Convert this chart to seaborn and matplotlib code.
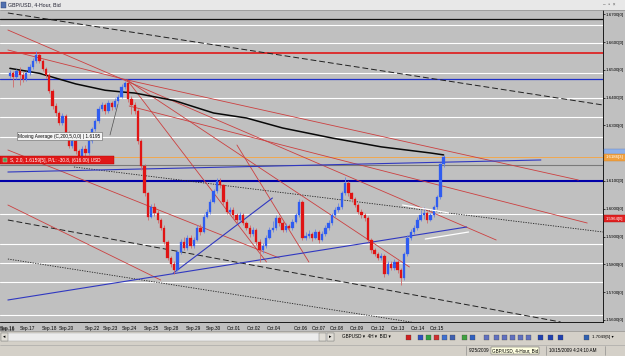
import matplotlib
matplotlib.use("Agg")
import matplotlib.pyplot as plt
import matplotlib.transforms as mtransforms
from matplotlib.patches import Rectangle
import seaborn as sns
import pandas as pd

# ---------------- data (bar index = 4-hour bar number, prices in USD) ----------------
first_open = 1.6480
closes = [1.6490, 1.6476, 1.6497, 1.6483, 1.6468, 1.6490, 1.6512, 1.6534, 1.6555, 1.6534,
          1.6505, 1.6483, 1.6425, 1.6371, 1.6345, 1.6309, 1.6334, 1.6273, 1.6226, 1.6244,
          1.6208, 1.6186, 1.6215, 1.6200, 1.6244, 1.6287, 1.6316, 1.6360, 1.6374, 1.6352,
          1.6381, 1.6367, 1.6389, 1.6403, 1.6439, 1.6454, 1.6396, 1.6374, 1.6352, 1.6244,
          1.6153, 1.6055, 1.5972, 1.6008, 1.5983, 1.5961, 1.5932, 1.5881, 1.5824, 1.5802,
          1.5780, 1.5845, 1.5881, 1.5860, 1.5896, 1.5867, 1.5889, 1.5932, 1.5918, 1.5972,
          1.5990, 1.6026, 1.6063, 1.6099, 1.6084, 1.6026, 1.5990, 1.5997, 1.5976, 1.5961,
          1.5976, 1.5947, 1.5932, 1.5910, 1.5925, 1.5881, 1.5852, 1.5867, 1.5896, 1.5925,
          1.5932, 1.5968, 1.5947, 1.5925, 1.5939, 1.5932, 1.5954, 1.5976, 1.6026, 1.5896,
          1.5903, 1.5910, 1.5896, 1.5918, 1.5889, 1.5910, 1.5932, 1.5947, 1.5976, 1.5997,
          1.6008, 1.6055, 1.6092, 1.6055, 1.6034, 1.6012, 1.5990, 1.5976, 1.5968, 1.5889,
          1.5852, 1.5838, 1.5824, 1.5831, 1.5766, 1.5802, 1.5787, 1.5809, 1.5780, 1.5751,
          1.5838, 1.5896, 1.5918, 1.5932, 1.5961, 1.5976, 1.5983, 1.5961, 1.5976, 1.6005,
          1.6041, 1.6160, 1.6186]
highs = [1.6500, 1.6498, 1.6505, 1.6510, 1.6492, 1.6498, 1.6520, 1.6545, 1.6568, 1.6562,
         1.6540, 1.6512, 1.6490, 1.6432, 1.6380, 1.6352, 1.6345, 1.6340, 1.6280, 1.6255,
         1.6250, 1.6215, 1.6225, 1.6228, 1.6252, 1.6295, 1.6325, 1.6372, 1.6385, 1.6382,
         1.6392, 1.6390, 1.6398, 1.6412, 1.6448, 1.6462, 1.6460, 1.6405, 1.6385, 1.6360,
         1.6250, 1.6160, 1.6062, 1.6018, 1.6020, 1.5995, 1.5968, 1.5940, 1.5888, 1.5830,
         1.5812, 1.5852, 1.5890, 1.5900, 1.5905, 1.5905, 1.5898, 1.5942, 1.5945, 1.5982,
         1.6000, 1.6035, 1.6072, 1.6112, 1.6110, 1.6090, 1.6035, 1.6008, 1.6005, 1.5985,
         1.5990, 1.5985, 1.5955, 1.5940, 1.5935, 1.5932, 1.5890, 1.5875, 1.5905, 1.5935,
         1.5955, 1.5978, 1.5975, 1.5955, 1.5948, 1.5945, 1.5962, 1.5985, 1.6035, 1.6030,
         1.5915, 1.5922, 1.5918, 1.5928, 1.5925, 1.5920, 1.5940, 1.5958, 1.5985, 1.6008,
         1.6020, 1.6065, 1.6114, 1.6100, 1.6062, 1.6042, 1.6020, 1.5998, 1.5985, 1.5975,
         1.5895, 1.5860, 1.5845, 1.5840, 1.5838, 1.5812, 1.5810, 1.5820, 1.5815, 1.5788,
         1.5845, 1.5905, 1.5928, 1.5942, 1.5970, 1.5995, 1.6005, 1.5992, 1.5985, 1.6012,
         1.6050, 1.6165, 1.6192]
lows = [1.6470, 1.6440, 1.6468, 1.6445, 1.6455, 1.6460, 1.6482, 1.6505, 1.6525, 1.6525,
        1.6495, 1.6470, 1.6418, 1.6360, 1.6335, 1.6300, 1.6300, 1.6265, 1.6218, 1.6220,
        1.6198, 1.6168, 1.6175, 1.6185, 1.6195, 1.6238, 1.6280, 1.6310, 1.6352, 1.6340,
        1.6345, 1.6355, 1.6360, 1.6380, 1.6398, 1.6430, 1.6385, 1.6340, 1.6340, 1.6235,
        1.6140, 1.6045, 1.5960, 1.5965, 1.5975, 1.5950, 1.5925, 1.5872, 1.5815, 1.5790,
        1.5765, 1.5775, 1.5838, 1.5850, 1.5852, 1.5858, 1.5860, 1.5882, 1.5905, 1.5912,
        1.5965, 1.5982, 1.6020, 1.6058, 1.6075, 1.6015, 1.5980, 1.5982, 1.5965, 1.5950,
        1.5955, 1.5940, 1.5922, 1.5900, 1.5902, 1.5870, 1.5808, 1.5840, 1.5860, 1.5890,
        1.5918, 1.5925, 1.5938, 1.5915, 1.5918, 1.5922, 1.5925, 1.5948, 1.5970, 1.5888,
        1.5888, 1.5895, 1.5885, 1.5890, 1.5878, 1.5882, 1.5902, 1.5925, 1.5940, 1.5970,
        1.5990, 1.6000, 1.6048, 1.6045, 1.6025, 1.6005, 1.5982, 1.5965, 1.5955, 1.5880,
        1.5842, 1.5828, 1.5815, 1.5815, 1.5755, 1.5760, 1.5778, 1.5780, 1.5770, 1.5725,
        1.5745, 1.5830, 1.5888, 1.5910, 1.5925, 1.5955, 1.5962, 1.5950, 1.5955, 1.5970,
        1.5998, 1.6035, 1.6152]

ma_bars = [0, 9, 20, 29, 34, 38, 50, 62, 72, 83, 98, 113, 128, 132]
ma_values = [1.6506, 1.6488, 1.6450, 1.6427, 1.6421, 1.6417, 1.6390, 1.6345, 1.6327,
             1.6291, 1.6255, 1.6223, 1.6201, 1.6194]

date_labels = ["Sep.16", "Sep.17", "Sep.18", "Sep.20", "Sep.22", "Sep.23", "Sep.24", "Sep.25",
               "Sep.28", "Sep.29", "Sep.30", "Oct.01", "Oct.02", "Oct.04", "Oct.06", "Oct.07",
               "Oct.08", "Oct.09", "Oct.12", "Oct.13", "Oct.14", "Oct.15"]
date_bars = [-3.0, 3.0, 9.6, 15.0, 22.8, 28.2, 34.2, 40.8, 46.8, 53.4, 59.5, 66.1, 72.1,
             78.1, 86.5, 91.9, 97.3, 103.3, 109.9, 115.9, 121.9, 127.9]

price_ticks = [1.67, 1.66, 1.65, 1.64, 1.63, 1.61, 1.60, 1.59, 1.58, 1.57, 1.56]
price_labels = ["1.6700[0]", "1.6600[0]", "1.6500[0]", "1.6400[0]", "1.6300[0]", "1.6100[0]",
                "1.6000[0]", "1.5900[0]", "1.5800[0]", "1.5700[0]", "1.5600[0]"]

white_levels = [1.6662, 1.6597, 1.6489, 1.6399, 1.6331, 1.6259, 1.5981, 1.5873, 1.5805,
                1.5736, 1.5617]
black_level = 1.6684
red_level = 1.6561
blue_level = 1.6468
blue_thick_level = 1.6100
bid_price = 1.6186
trade_price = 1.6159
alert_price = 1.5964

# trend lines: (bar0, price0, bar1, price1)
red_trend = [(35.7, 1.64640, 173.0, 1.61036),
             (-0.6, 1.66441, 148.0, 1.58874),
             (36.3, 1.63703, 175.7, 1.59486),
             (-0.6, 1.65721, 35.7, 1.64640),
             (35.7, 1.64640, 121.6, 1.57901),
             (35.7, 1.64640, 78.1, 1.58081),
             (-0.6, 1.62117, 82.0, 1.58225),
             (-0.6, 1.60135, 45.9, 1.57432),
             (69.1, 1.62297, 91.0, 1.58081)]
blue_trend = [(-0.6, 1.61324, 161.6, 1.61757),
              (-0.6, 1.56712, 139.0, 1.59342),
              (49.8, 1.57685, 79.9, 1.60387)]
white_trend = [(119.5, 1.60135, 133.6, 1.59847),
               (126.4, 1.58909, 139.6, 1.59162)]
black_dashed = [(-0.6, 1.67054, 180.5, 1.63739),
                (-0.6, 1.59595, 167.6, 1.55919)]
black_dotted = [(-0.6, 1.58189, 137.5, 1.55631),
                (19.5, 1.61505, 180.5, 1.59162)]

# ---------------- figure ----------------
sns.set_style("white")
plt.rcParams['font.family'] = ['Liberation Sans', 'DejaVu Sans']

W, H = 625, 356
fig = plt.figure(figsize=(W / 100, H / 100), dpi=100)
fig.patch.set_facecolor('#c0c0c0')


def fx(x):
    return x / W


def fy(y):
    return 1 - y / H


CH_TOP, CH_BOT, CH_RIGHT = 10, 322, 603
ax = fig.add_axes([0, fy(CH_BOT), fx(CH_RIGHT), (CH_BOT - CH_TOP) / H])
ax.set_facecolor('#c0c0c0')

GRID_Z, OBJ_Z, MA_Z, CANDLE_Z = 1, 3, 4, 6
for lv in white_levels:
    ax.axhline(lv, color='white', lw=0.8, zorder=GRID_Z)

ax.axhline(black_level, color='#101010', lw=0.9, zorder=OBJ_Z)
ax.axhline(red_level, color='#e01818', lw=1.2, zorder=OBJ_Z)
ax.axhline(blue_level, color='#2030c8', lw=0.9, zorder=OBJ_Z)
ax.axhline(blue_thick_level, color='#0000a8', lw=1.5, zorder=OBJ_Z)
ax.axhline(bid_price, color='#f0a850', lw=0.7, zorder=OBJ_Z)
ax.axhline(trade_price, color='#7a7a7a', lw=0.8, zorder=OBJ_Z)

for x0, y0, x1, y1 in black_dashed:
    ax.plot([x0, x1], [y0, y1], color='#202020', lw=0.7, dashes=(6, 3), zorder=OBJ_Z)
for x0, y0, x1, y1 in black_dotted:
    ax.plot([x0, x1], [y0, y1], color='#202020', lw=0.6, dashes=(1.5, 1.5), zorder=OBJ_Z)
for x0, y0, x1, y1 in red_trend:
    ax.plot([x0, x1], [y0, y1], color='#cc4040', lw=0.6, zorder=OBJ_Z)
for x0, y0, x1, y1 in blue_trend:
    ax.plot([x0, x1], [y0, y1], color='#3038c0', lw=0.8, zorder=OBJ_Z)
for x0, y0, x1, y1 in white_trend:
    ax.plot([x0, x1], [y0, y1], color='white', lw=0.9, zorder=CANDLE_Z + 1)

# moving average
ma_df = pd.DataFrame({'bar': ma_bars, 'ma': ma_values})
sns.lineplot(data=ma_df, x='bar', y='ma', color='#080808', lw=1.1, ax=ax, zorder=MA_Z)

# candles
opens = [first_open] + closes[:-1]
df = pd.DataFrame({'bar': range(len(closes)), 'open': opens, 'high': highs,
                   'low': lows, 'close': closes})
up = df['close'] >= df['open']
dn = ~up
ax.vlines(df['bar'][up], df['low'][up], df['high'][up], color='#6a84e0', lw=0.6, zorder=CANDLE_Z)
ax.vlines(df['bar'][dn], df['low'][dn], df['high'][dn], color='#d06868', lw=0.6, zorder=CANDLE_Z)
ax.bar(df['bar'][up], (df['close'] - df['open'])[up], bottom=df['open'][up], width=0.72,
       color='#2f5cf0', edgecolor='#2f5cf0', lw=0.2, zorder=CANDLE_Z)
ax.bar(df['bar'][dn], (df['close'] - df['open'])[dn], bottom=df['open'][dn], width=0.72,
       color='#e01414', edgecolor='#e01414', lw=0.2, zorder=CANDLE_Z)

ax.set_xlim(-0.6, 180.5)
ax.set_ylim(1.55919, 1.67162)
ax.set_xlabel('')
ax.set_ylabel('')

# axes styling
for s in ['top', 'left']:
    ax.spines[s].set_visible(False)
for s in ['right', 'bottom']:
    ax.spines[s].set_color('black')
    ax.spines[s].set_linewidth(0.6)

ax.yaxis.tick_right()
ax.set_yticks(price_ticks)
ax.set_yticklabels(price_labels)
ax.tick_params(axis='y', direction='out', length=1.5, width=0.5, pad=0.5,
               labelsize=3.2, colors='black')
ax.set_xticks(date_bars)
ax.set_xticklabels(date_labels)
ax.tick_params(axis='x', direction='out', length=2, width=0.5, pad=1,
               labelsize=3.4, colors='black')
for t in ax.get_xticklabels():
    t.set_ha('left')
xblend = mtransforms.blended_transform_factory(ax.transData, ax.transAxes)
ax.text(date_bars[0], -0.0145, date_labels[0], transform=xblend, ha='left', va='top',
        fontsize=3.4, clip_on=False)

# price-axis markers (boxes run to the window edge)
yblend = mtransforms.blended_transform_factory(ax.transAxes, ax.transData)
box_w = (W - CH_RIGHT) / CH_RIGHT
ax.add_patch(Rectangle((1.002, bid_price + 0.0008), box_w, 0.0022, transform=yblend,
                       fc='#8fb0e8', ec='#6080c0', lw=0.3, clip_on=False, zorder=8))
ax.add_patch(Rectangle((1.002, bid_price - 0.0013), box_w, 0.0026, transform=yblend,
                       fc='#f0a040', ec='#d08020', lw=0.3, clip_on=False, zorder=9))
ax.text(1.0045, bid_price, "1.6186[3]", transform=yblend, fontsize=3.1, color='white',
        va='center', ha='left', clip_on=False, zorder=10)
ax.add_patch(Rectangle((1.002, alert_price - 0.0013), box_w, 0.0026, transform=yblend,
                       fc='#e02020', ec='#b01010', lw=0.3, clip_on=False, zorder=9))
ax.text(1.0045, alert_price, "1.5964[0]", transform=yblend, fontsize=3.1, color='white',
        va='center', ha='left', clip_on=False, zorder=10)

# trade label
fig.add_artist(Rectangle((fx(0), fy(164.5)), fx(114), (164.5 - 156) / H,
                         transform=fig.transFigure, fc='#e01818', ec='#b00000', lw=0.3))
fig.add_artist(Rectangle((fx(3), fy(162)), fx(4), 4 / H, transform=fig.transFigure,
                         fc='#50a050', ec='#d0d0d0', lw=0.3))
fig.text(fx(10), fy(160.3), "S, 2.0, 1.6159[5], P/L: -30.8, (616.00) USD", fontsize=3.4,
         color='white', va='center', ha='left')

# moving-average tooltip
fig.add_artist(plt.Line2D([fx(110), fx(118)], [fy(135), fy(104)], transform=fig.transFigure,
                          color='#505050', lw=0.5))
fig.text(fx(18), fy(136), "Moving Average (C,200,5,0,0) | 1.6195", fontsize=3.4,
         color='black', va='center', ha='left',
         bbox=dict(boxstyle='square,pad=0.3', fc='#f4f4f4', ec='#606060', lw=0.4))

# title bar
fig.add_artist(Rectangle((0, fy(10)), 1, 10 / H, transform=fig.transFigure,
                         fc='#e8e8e8', ec='none'))
fig.add_artist(plt.Line2D([0, 1], [fy(10), fy(10)], transform=fig.transFigure,
                          color='#909090', lw=0.5))
fig.add_artist(Rectangle((fx(1), fy(8)), fx(4.5), 5.5 / H, transform=fig.transFigure,
                         fc='#5070b0', ec='#304070', lw=0.3))
fig.text(fx(8), fy(4.8), "GBP/USD, 4-Hour, Bid", fontsize=3.8, color='#202030',
         va='center', ha='left')
fig.text(fx(603), fy(4.5), "–  ▫  ×", fontsize=3.4, color='#505050', va='center', ha='left')

# toolbar row
fig.add_artist(Rectangle((0, fy(356)), 1, 25 / H, transform=fig.transFigure,
                         fc='#d4d0c8', ec='none'))
fig.add_artist(plt.Line2D([0, 1], [fy(331), fy(331)], transform=fig.transFigure,
                          color='#808080', lw=0.4))
fig.add_artist(Rectangle((fx(1), fy(341)), fx(333), 8 / H, transform=fig.transFigure,
                         fc='#ececec', ec='#a0a0a0', lw=0.3))
for bx in (1, 319, 327):
    fig.add_artist(Rectangle((fx(bx), fy(341)), fx(7), 8 / H, transform=fig.transFigure,
                             fc='#e0ddd6', ec='#707070', lw=0.3))
fig.text(fx(3), fy(337), "◂", fontsize=3.4, color='black', va='center')
fig.text(fx(329), fy(337), "▸", fontsize=3.4, color='black', va='center')
fig.text(fx(342), fy(337), "GBPUSD ▾  4H ▾  BID ▾", fontsize=3.3, color='black',
         va='center', ha='left')
icon_x = [406, 418, 426, 434, 442, 450, 462, 470, 484, 494, 502, 510, 518, 526, 538, 548,
          558, 584]
icon_c = ['#d02020', '#3050c0', '#30a040', '#d03030', '#4070d0', '#4060b0', '#40a040',
          '#3060c0', '#6070c0', '#6070c0', '#6070c0', '#6070c0', '#6070c0', '#6070c0',
          '#2040b0', '#2040b0', '#2040b0', '#3060b0']
for ix, ic in zip(icon_x, icon_c):
    fig.add_artist(Rectangle((fx(ix), fy(340)), fx(5), 5.5 / H, transform=fig.transFigure,
                             fc=ic, ec='#404040', lw=0.2))
fig.text(fx(592), fy(337), "1.7049[5] ▾", fontsize=3.2, color='black', va='center',
         ha='left')

# status bar
fig.add_artist(plt.Line2D([0, 1], [fy(344.5), fy(344.5)], transform=fig.transFigure,
                          color='#a0a0a0', lw=0.4))
fig.text(fx(469), fy(350.5), "9/25/2009", fontsize=3.3, color='black', va='center',
         ha='left')
fig.text(fx(492), fy(350.5), "GBP/USD, 4-Hour, Bid", fontsize=3.3, color='black',
         va='center', ha='left',
         bbox=dict(boxstyle='square,pad=0.25', fc='#ffffe1', ec='#404040', lw=0.3))
fig.text(fx(549), fy(350.5), "10/15/2009 4:24:10 AM", fontsize=3.3, color='black',
         va='center', ha='left')
for sx in (466, 546, 605):
    fig.add_artist(plt.Line2D([fx(sx), fx(sx)], [fy(346), fy(355)],
                              transform=fig.transFigure, color='#808080', lw=0.4))

fig.savefig("out.png", dpi=100, facecolor=fig.get_facecolor())
